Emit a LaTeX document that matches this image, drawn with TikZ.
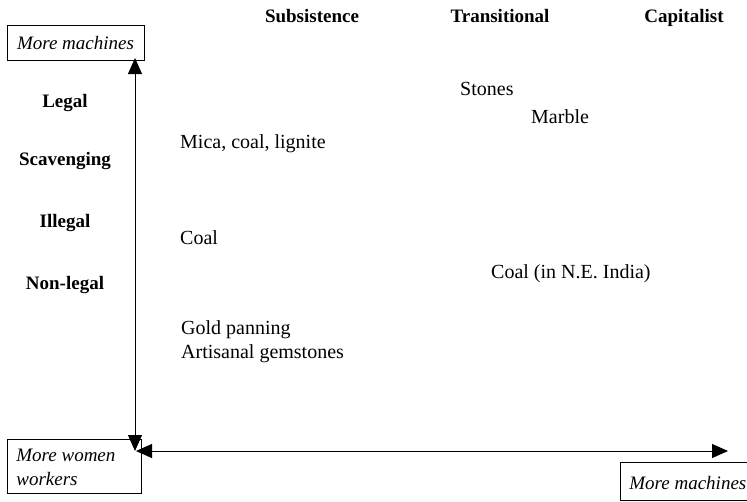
\documentclass[tikz,border=0pt]{standalone}
\usepackage{fontspec}
\setmainfont{Liberation Serif}
\usetikzlibrary{arrows.meta}
\begin{document}
\begin{tikzpicture}[x=1pt,y=-1pt,
  lbl/.style={font=\fontsize{20}{23}\selectfont, inner sep=0pt, anchor=base west},
  hdr/.style={font=\fontsize{19}{23}\selectfont\bfseries, inner sep=0pt, anchor=base},
  ibox/.style={draw, line width=0.8pt, font=\fontsize{19}{23}\selectfont\itshape, inner sep=0pt, align=left},
  axis/.style={line width=0.9pt, {Triangle[length=16pt,width=14pt]}-{Triangle[length=16pt,width=14pt]}}]
\useasboundingbox (0,0) rectangle (747,501);
% headers
\node[hdr] (sub) at (312,22) {Subsistence};
\node[hdr] (tra) at (500,22) {Transitional};
\node[hdr] (cap) at (684,22) {Capitalist};
\node[hdr] (leg) at (65,107) {Legal};
\node[hdr] (sca) at (65,165) {Scavenging};
\node[hdr] (ill) at (65,227) {Illegal};
\node[hdr] (nonl) at (65,289) {Non-legal};
% boxes
\draw[line width=0.8pt] (7,25) rectangle (144,60);
\node[ibox, draw=none, anchor=base] (tl) at (75.5,49) {More machines};
\draw[line width=0.8pt] (7,439) rectangle (141,493);
\node[ibox, draw=none, anchor=base west] (bl) at (16,461) {More women};
\node[ibox, draw=none, anchor=base west] (bl2) at (16,485) {workers};
\draw[line width=0.8pt] (620,462) rectangle (760,500);
\node[ibox, draw=none, anchor=base west] (br) at (629,489) {More machines};
% items
\node[lbl] (sto) at (460,95) {Stones};
\node[lbl] (mar) at (531,123) {Marble};
\node[lbl] (mic) at (180,148) {Mica, coal, lignite};
\node[lbl] (coa) at (180,244) {Coal};
\node[lbl] (cne) at (491,278) {Coal (in N.E. India)};
\node[lbl] (gol) at (181,334) {Gold panning};
\node[lbl] (art) at (181,358) {Artisanal gemstones};
% axes
\coordinate (vt) at (135,58);
\coordinate (vb) at (135,451);
\coordinate (hl) at (136,451);
\coordinate (hr) at (728,451);
\draw[axis] (vt) -- (vb);
\draw[axis] (hl) -- (hr);
\end{tikzpicture}
\end{document}
